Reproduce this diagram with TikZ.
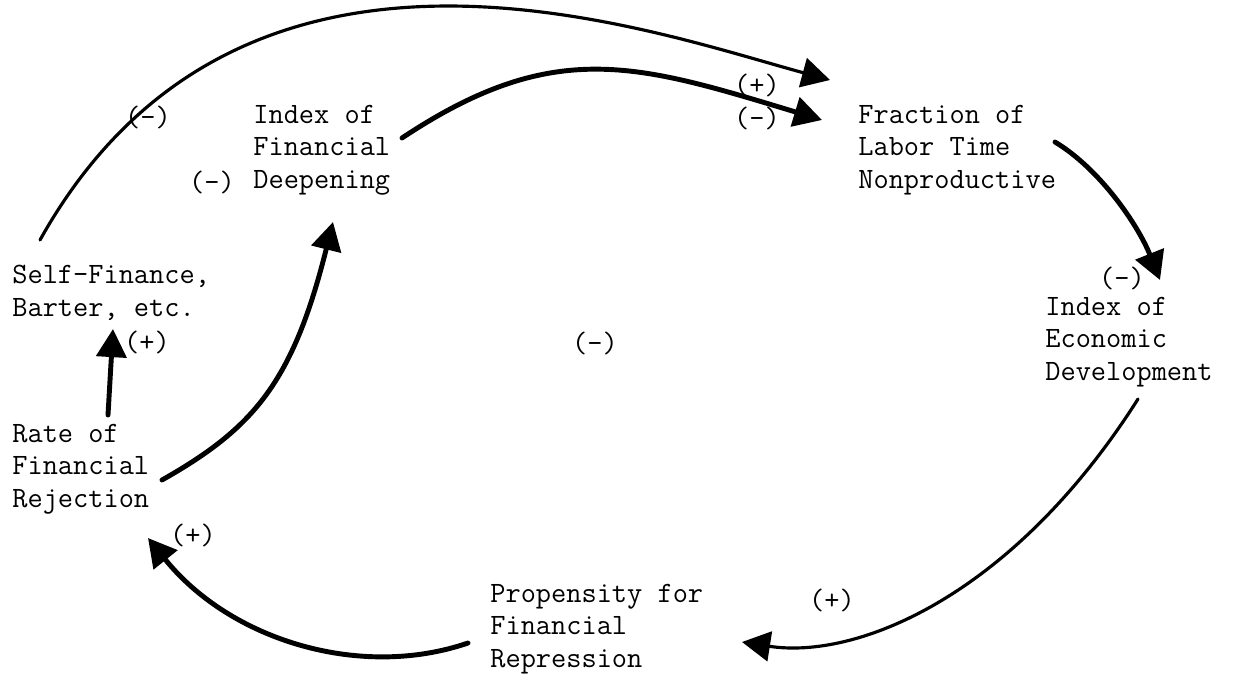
\documentclass[tikz,border=0pt]{standalone}
\usepackage{fontspec}
\usetikzlibrary{arrows.meta}

\begin{document}
\begin{tikzpicture}[x=0.02cm, y=-0.02cm,
  var/.style={align=left, anchor=west, inner sep=0pt, font=\ttfamily\fontsize{16.8}{18.4}\selectfont},
  sign/.style={inner sep=0pt, font=\ttfamily\fontsize{16.8}{18.4}\selectfont},
  link/.style={line width=2.8pt, line cap=round, -{Triangle[length=16pt,width=17pt]}},
  thinlink/.style={line width=1.8pt, line cap=round, -{Triangle[length=16pt,width=17pt]}}]
\useasboundingbox (0,0) rectangle (1233,673);

% variables of the loop
\node[var] (idx) at (253,150) {Index of\\Financial\\Deepening};
\node[var] (frac) at (858,150) {Fraction of\\Labor Time\\Nonproductive};
\node[var] (econ) at (1045,342) {Index of\\Economic\\Development};
\node[var] (prop) at (490,629) {Propensity for\\Financial\\Repression};
\node[var] (rej) at (12,469) {Rate of\\Financial\\Rejection};
\node[var] (self) at (12,293) {Self-Finance,\\Barter, etc.};

% polarity signs
\node[sign] (sgnarc) at (148,117) {(-)};
\node[sign] (sgnidx) at (212,182) {(-)};
\node[sign] (sgnfracA) at (757,85) {(+)};
\node[sign] (sgnfracB) at (757,118) {(-)};
\node[sign] (sgnecon) at (1122,278) {(-)};
\node[sign] (sgnloop) at (595,343) {(-)};
\node[sign] (sgnself) at (147,342) {(+)};
\node[sign] (sgnrej) at (193,535) {(+)};
\node[sign] (sgnprop) at (832,600) {(+)};

% links
\draw[thinlink] ([shift={(28,-53)}]self.west) .. controls +(200,-358) and +(-184,-50) .. ([shift={(-28,-70)}]frac.west);
\draw[link] ([shift={(149,-12)}]idx.west) .. controls +(152,-101) and +(-185,-56) .. ([shift={(-36,-30)}]frac.west);
\draw[link] ([shift={(197,-8)}]frac.west) .. controls +(45,27) and +(-22,-55) .. ([shift={(115,-62)}]econ.west);
\draw[thinlink] ([shift={(93,57)}]econ.west) .. controls +(-125,197) and +(115,18) .. ([shift={(252,13)}]prop.west);
\draw[link] ([shift={(-22,14)}]prop.west) .. controls +(-108,37) and +(82,102) .. ([shift={(136,69)}]rej.west);
\draw[link] ([shift={(150,11)}]rej.west) .. controls +(92,-52) and +(-40,160) .. ([shift={(80,72)}]idx.west);
\draw[link] ([shift={(96,-54)}]rej.west) -- ([shift={(101,36)}]self.west);
\end{tikzpicture}
\end{document}
